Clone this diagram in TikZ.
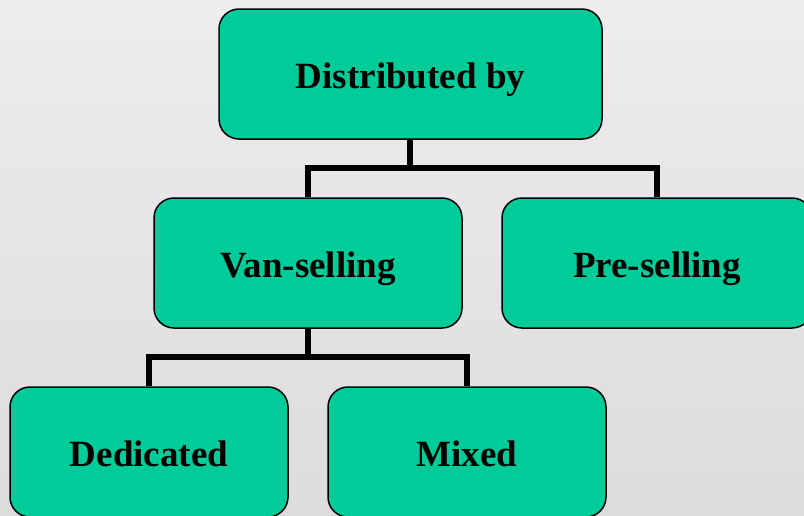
\documentclass[tikz,border=0pt]{standalone}
\usepackage{fontspec}
\setmainfont{Liberation Serif}
\definecolor{boxgreen}{HTML}{00CC99}
\definecolor{bgtop}{HTML}{EFECEF}
\definecolor{bgbot}{HTML}{DEDBDE}
\begin{document}
\begin{tikzpicture}[x=1pt,y=-1pt,
  box/.style={draw=black, line width=1.5pt, fill=boxgreen, rounded corners=20pt,
    minimum width=#1, minimum height=130pt, inner sep=0pt,
    text height=31pt, text depth=2pt,
    font=\fontsize{37}{44}\selectfont\bfseries},
  box/.default=308pt,
  link/.style={line width=5.5pt, draw=black}]
\useasboundingbox (0,0) rectangle (804,515);
\clip (0,0) rectangle (804,515);
\shade[top color=bgtop, bottom color=bgbot] (0,0) rectangle (804,515);
\node[box=383pt] (top) at (410.5,74) {Distributed by};
\node[box=308pt] (van) at (308,263) {Van-selling};
\node[box=310pt] (pre) at (657,263) {Pre-selling};
\node[box=278pt] (ded) at (149,452) {Dedicated};
\node[box=278pt] (mix) at (467,452) {Mixed};
\coordinate (j1) at (410,168);
\coordinate (j2) at (308,357);
\draw[link] (top.south -| j1) -- (j1);
\draw[link] (van.north) |- (j1) -| (pre.north);
\draw[link] (van.south) -- (j2);
\draw[link] (ded.north) |- (j2) -| (mix.north);
\end{tikzpicture}
\end{document}
